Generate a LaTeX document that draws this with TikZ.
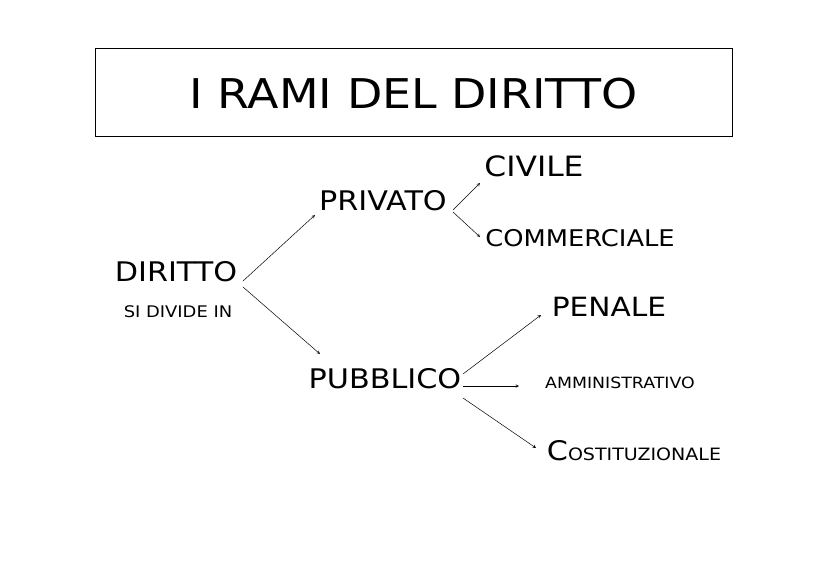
\documentclass[tikz,border=0pt]{standalone}
\usepackage{fontspec}
\setmainfont[FakeStretch=1.12]{DejaVu Sans}
\begin{document}
\begin{tikzpicture}[x=1pt,y=-1pt,
  lbl/.style={inner sep=0pt,anchor=center},
  arr/.style={->,>=stealth,line width=0.5pt}]
\useasboundingbox (0,0) rectangle (828,586);
\node[draw,line width=0.8pt,minimum width=637pt,minimum height=88pt] (title) at (413.5,92) {};
\node[lbl,font=\fontsize{41}{41}\selectfont] at (413.5,94) {I RAMI DEL DIRITTO};
\node[lbl,font=\fontsize{27}{27}\selectfont] (dir) at (176,272) {DIRITTO};
\node[lbl,font=\fontsize{16}{16}\selectfont] (si) at (178,312) {SI DIVIDE IN};
\node[lbl,font=\fontsize{27}{27}\selectfont] (priv) at (383,201) {PRIVATO};
\node[lbl,font=\fontsize{27}{27}\selectfont] (pub) at (385,379) {PUBBLICO};
\node[lbl,font=\fontsize{28}{28}\selectfont] (civ) at (534,166) {CIVILE};
\node[lbl,font=\fontsize{23}{23}\selectfont] (com) at (580,238) {COMMERCIALE};
\node[lbl,font=\fontsize{26.5}{27}\selectfont] (pen) at (609,307) {PENALE};
\node[lbl,font=\fontsize{15.5}{16}\selectfont] (amm) at (620,383) {AMMINISTRATIVO};
\node[lbl,font=\fontsize{17}{17}\selectfont] (cos) at (634,451) {{\fontsize{27}{27}\selectfont C}OSTITUZIONALE};
\coordinate (d1) at (243,281); \coordinate (d1e) at (315,215);
\coordinate (d2) at (243,287); \coordinate (d2e) at (320,354);
\coordinate (p1) at (453,210); \coordinate (p1e) at (480,183);
\coordinate (p2) at (453,212); \coordinate (p2e) at (480,237);
\coordinate (u1) at (463,374); \coordinate (u1e) at (541,315);
\coordinate (u2) at (463,386); \coordinate (u2e) at (519,386);
\coordinate (u3) at (463,398); \coordinate (u3e) at (536,448);
\draw[arr] (d1) -- (d1e);
\draw[arr] (d2) -- (d2e);
\draw[arr] (p1) -- (p1e);
\draw[arr] (p2) -- (p2e);
\draw[arr] (u1) -- (u1e);
\draw[arr] (u2) -- (u2e);
\draw[arr] (u3) -- (u3e);
\end{tikzpicture}
\end{document}
